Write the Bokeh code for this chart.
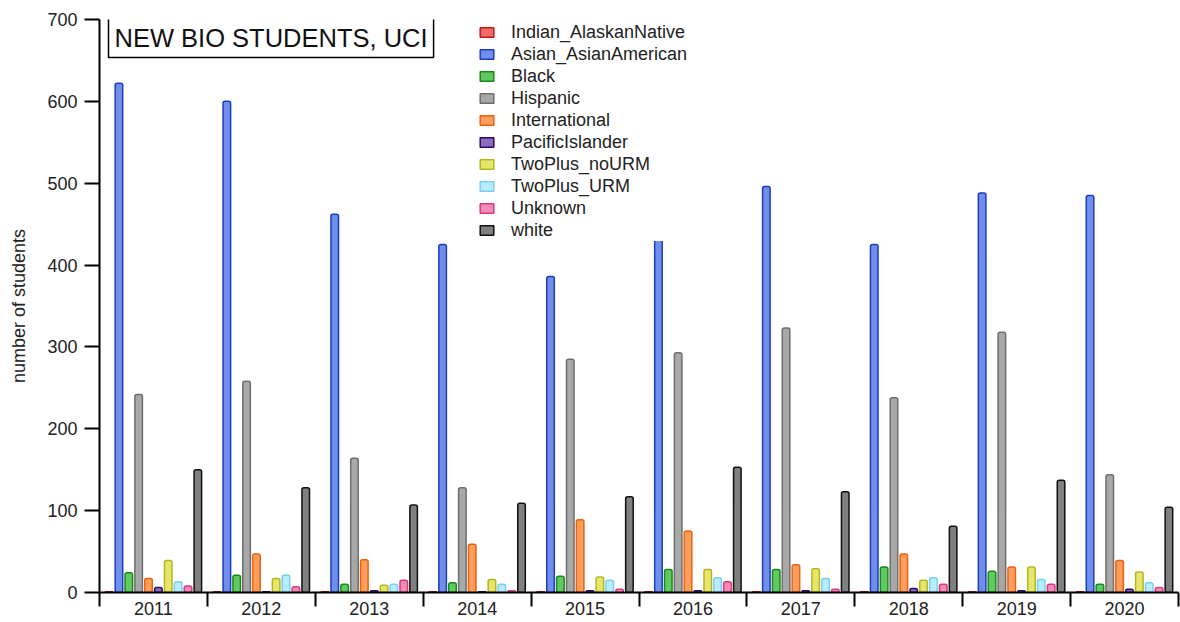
from bokeh.plotting import figure
from bokeh.models import ColumnDataSource, FixedTicker, Label, Legend, LegendItem, Range1d
from bokeh.transform import dodge
from bokeh.embed import file_html
from bokeh.resources import INLINE

years = [2011, 2012, 2013, 2014, 2015, 2016, 2017, 2018, 2019, 2020]
year_labels = [str(y) for y in years]

indian_alaskan_native = [1, 1, 1, 1, 1, 1, 1, 1, 1, 1]
asian_asian_american = [622, 600, 462, 425, 386, 445, 496, 425, 488, 485]
black = [24, 21, 10, 12, 20, 28, 28, 31, 26, 10]
hispanic = [242, 258, 164, 128, 285, 293, 323, 238, 318, 144]
international = [17, 47, 40, 59, 89, 75, 34, 47, 31, 39]
pacific_islander = [6, 1, 2, 1, 2, 2, 2, 5, 2, 4]
twoplus_no_urm = [39, 17, 9, 16, 19, 28, 29, 15, 31, 25]
twoplus_urm = [13, 21, 10, 10, 15, 18, 17, 18, 16, 12]
unknown = [8, 7, 15, 2, 4, 13, 4, 10, 10, 6]
white = [150, 128, 107, 109, 117, 153, 123, 81, 137, 104]

series_names = ["Indian_AlaskanNative", "Asian_AsianAmerican", "Black", "Hispanic",
                "International", "PacificIslander", "TwoPlus_noURM", "TwoPlus_URM",
                "Unknown", "white"]
series_values = [indian_alaskan_native, asian_asian_american, black, hispanic,
                 international, pacific_islander, twoplus_no_urm, twoplus_urm,
                 unknown, white]
fill_colors = ["#f26b6b", "#6f8fea", "#62c862", "#a8a8a8", "#ff9d5c",
               "#8a6cc0", "#e6e66a", "#b8ecff", "#f58ab8", "#808080"]
line_colors = ["#c01818", "#1c3cc0", "#178a17", "#6e6e6e", "#e8620f",
               "#2d0a5e", "#b5b524", "#78cff2", "#d63a7c", "#101010"]

FONT = "Liberation Sans"

data = {"year": years}
for name, vals in zip(series_names, series_values):
    data[name] = vals
source = ColumnDataSource(data)

p = figure(width=1180, height=622, output_backend="svg", toolbar_location=None,
           x_range=Range1d(2010.5, 2020.5), y_range=Range1d(0, 700),
           min_border_left=99, min_border_right=2, min_border_top=19,
           min_border_bottom=30)
p.outline_line_color = None
p.xgrid.visible = False
p.ygrid.visible = False
p.background_fill_color = "white"

step = 0.0914
items = []
for i, name in enumerate(series_names):
    off = (i - 4.5) * step
    r = p.vbar(x=dodge("year", off, range=p.x_range), top=name, width=0.07,
               source=source, fill_color=fill_colors[i], line_color=line_colors[i],
               line_width=1.5, border_radius=2)
    items.append(LegendItem(label=name, renderers=[r]))

# x axis
p.xaxis.ticker = FixedTicker(ticks=years,
                             minor_ticks=[y + 0.5 for y in [2010] + years])
p.xaxis.major_label_overrides = {y: s for y, s in zip(years, year_labels)}
p.xaxis.major_tick_out = 0
p.xaxis.major_tick_in = 0
p.xaxis.minor_tick_out = 14
p.xaxis.minor_tick_in = 0
p.xaxis.minor_tick_line_width = 2
p.xaxis.minor_tick_line_color = "black"
p.xaxis.axis_line_width = 2
p.xaxis.axis_line_color = "black"
p.xaxis.major_label_standoff = -5
p.xaxis.major_label_text_font = FONT
p.xaxis.major_label_text_font_size = "18px"
p.xaxis.major_label_text_color = "#222222"

# y axis
p.yaxis.ticker = FixedTicker(ticks=[0, 100, 200, 300, 400, 500, 600, 700])
p.yaxis.minor_tick_line_color = None
p.yaxis.major_tick_out = 15
p.yaxis.major_tick_in = 0
p.yaxis.major_tick_line_width = 2
p.yaxis.axis_line_width = 2
p.yaxis.axis_line_color = "black"
p.yaxis.major_label_standoff = 7
p.yaxis.major_label_text_font = FONT
p.yaxis.major_label_text_font_size = "18px"
p.yaxis.major_label_text_color = "#222222"
p.yaxis.axis_label = "number of students"
p.yaxis.axis_label_text_font = FONT
p.yaxis.axis_label_text_font_size = "18px"
p.yaxis.axis_label_text_font_style = "normal"
p.yaxis.axis_label_text_color = "#222222"
p.yaxis.axis_label_standoff = 15

legend = Legend(items=items, location=(379, 351), border_line_color=None,
                background_fill_color="white", background_fill_alpha=1.0,
                padding=0, spacing=0, margin=0, label_height=22,
                glyph_height=12, glyph_width=17, label_standoff=16,
                label_text_font=FONT, label_text_font_size="18px",
                label_text_color="#222222")
p.add_layout(legend, "center")

title = Label(x=9, y=575, x_units="screen", y_units="screen",
              text="NEW BIO STUDENTS, UCI", anchor="top_left",
              text_font=FONT, text_font_size="25.5px", text_color="#111111",
              border_line_color="black", border_line_width=1.5,
              background_fill_color="white", padding=6)
p.add_layout(title)

open("out.html", "w").write(file_html(p, INLINE))
